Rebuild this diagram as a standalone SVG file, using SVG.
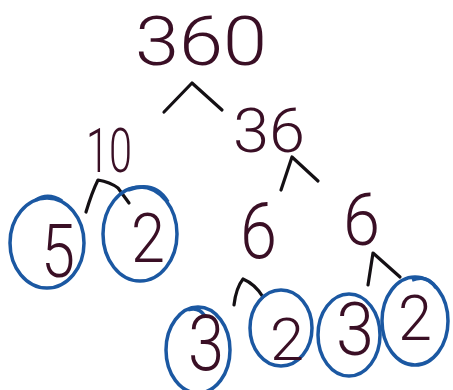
<svg xmlns="http://www.w3.org/2000/svg" width="453" height="390" viewBox="0 0 453 390">
  <style>
    .num { font-family: Roboto, Inter, "Liberation Sans", sans-serif; font-weight: 300; fill: #3a0f25; }
    .ring { fill: none; stroke: #1b58a2; stroke-width: 3.5; }
    .branch { fill: none; stroke: #141014; stroke-width: 3.2; stroke-linecap: round; stroke-linejoin: round; }
  </style>
  <rect width="453" height="390" fill="#ffffff"/>
  <g id="connectors">
    <path class="branch" d="M164,112 L192,83 L222,110"/>
    <path class="branch" d="M281,190 L292,157 L318,181"/>
    <path class="branch" d="M86,212 Q92,192 98,180 Q110,182 118,188 L129,203"/>
    <path class="branch" d="M234,305 Q236,288 243,279 Q255,284 263,297"/>
    <path class="branch" d="M368,285 L373,253 L400,277"/>
  </g>
  <g id="n360"><text class="num" x="135" y="65" font-size="68" textLength="132" lengthAdjust="spacingAndGlyphs">360</text></g>
  <g id="n36"><text class="num" x="233" y="152" font-size="61" textLength="72" lengthAdjust="spacingAndGlyphs">36</text></g>
  <g id="n10"><text class="num" x="86" y="172" font-size="61" textLength="46" lengthAdjust="spacingAndGlyphs">10</text></g>
  <g id="n5">
    <ellipse class="ring" cx="47" cy="243" rx="37" ry="45"/>
    <path class="ring" d="M36,200 Q48,192 62,201"/>
    <text class="num" x="41" y="277" font-size="75" textLength="34" lengthAdjust="spacingAndGlyphs">5</text>
  </g>
  <g id="n2a">
    <ellipse class="ring" cx="140" cy="234" rx="37" ry="47"/>
    <path class="ring" d="M128,190 Q155,180 168,202"/>
    <text class="num" x="131" y="262" font-size="68" textLength="34" lengthAdjust="spacingAndGlyphs">2</text>
  </g>
  <g id="n6a"><text class="num" x="240" y="258" font-size="78" textLength="37" lengthAdjust="spacingAndGlyphs">6</text></g>
  <g id="n6b"><text class="num" x="343" y="245" font-size="73" textLength="37" lengthAdjust="spacingAndGlyphs">6</text></g>
  <g id="n3a">
    <ellipse class="ring" cx="198" cy="350" rx="32" ry="43"/>
    <path class="ring" d="M188,310 Q198,306 205,316"/>
    <text class="num" x="188" y="370" font-size="78" textLength="36" lengthAdjust="spacingAndGlyphs">3</text>
  </g>
  <g id="n2b">
    <ellipse class="ring" cx="281" cy="328" rx="31" ry="38"/>
    <text class="num" x="270" y="360" font-size="60" textLength="34" lengthAdjust="spacingAndGlyphs">2</text>
  </g>
  <g id="n3b">
    <ellipse class="ring" cx="349" cy="335" rx="31" ry="41"/>
    <text class="num" x="336" y="355" font-size="74" textLength="38" lengthAdjust="spacingAndGlyphs">3</text>
  </g>
  <g id="n2c">
    <ellipse class="ring" cx="415" cy="321" rx="33" ry="44"/>
    <path class="ring" d="M412,280 Q428,274 436,288"/>
    <text class="num" x="398" y="340" font-size="63" textLength="34" lengthAdjust="spacingAndGlyphs">2</text>
  </g>
</svg>
